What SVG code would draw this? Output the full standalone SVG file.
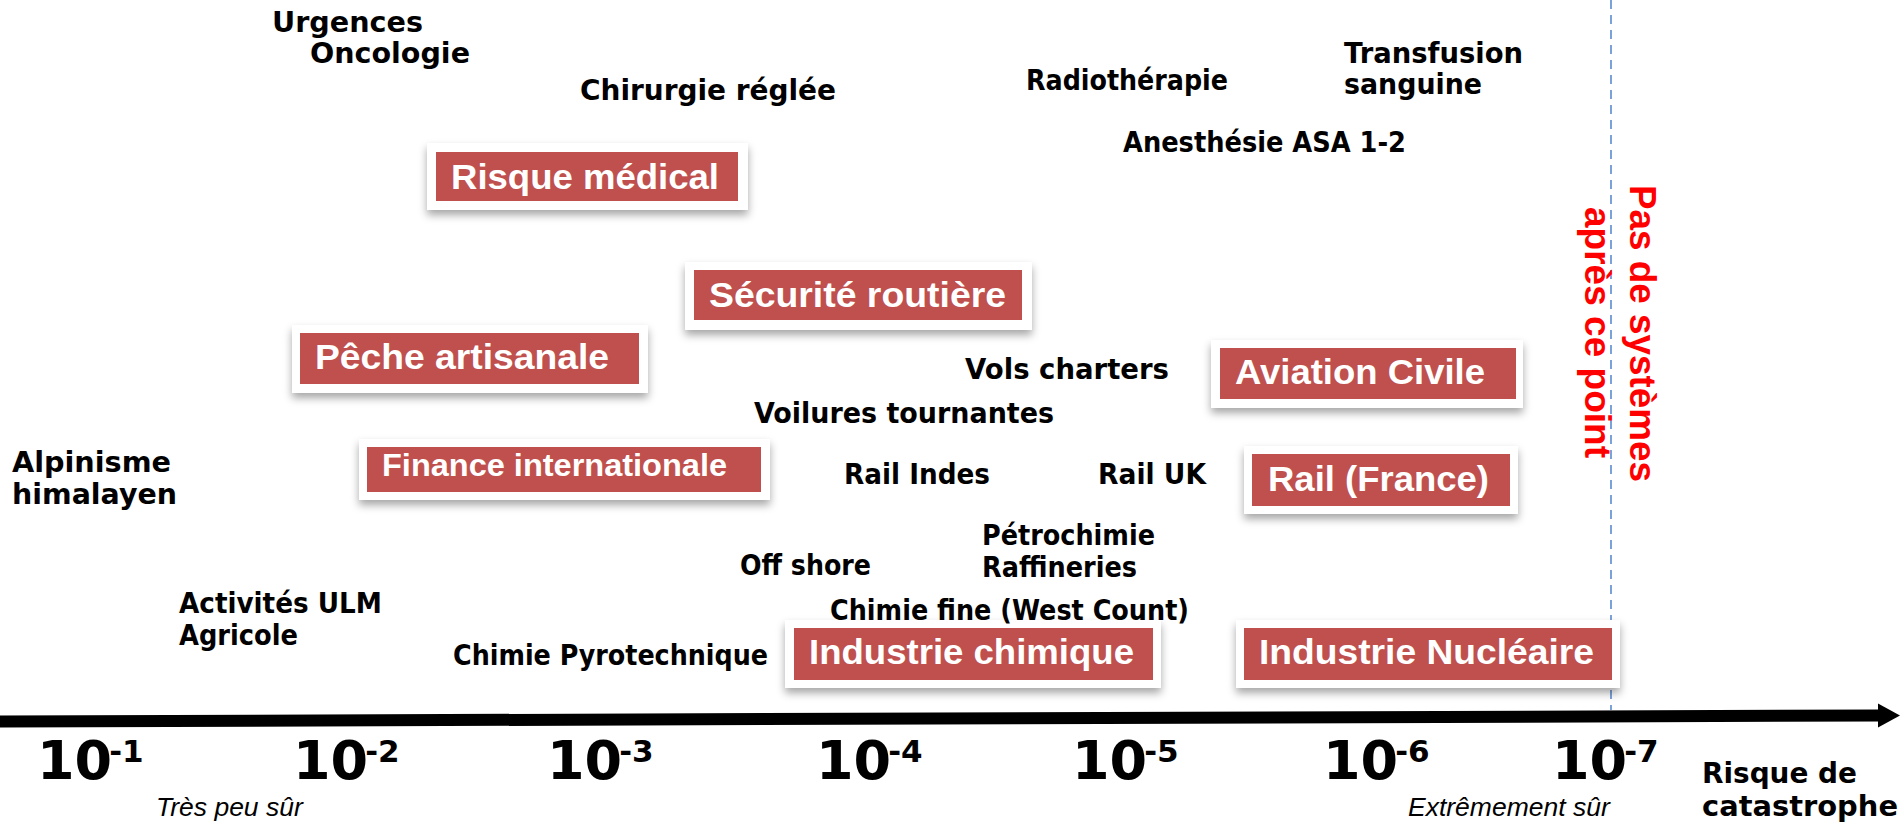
<svg xmlns="http://www.w3.org/2000/svg" width="1901" height="825" viewBox="0 0 1901 825">
<style>
.lbl{font-family:"DejaVu Sans","Liberation Sans",sans-serif;font-weight:bold;font-size:27.5px;fill:#000}
.box{font-family:"Liberation Sans",Arial,sans-serif;font-weight:bold;font-size:35px;fill:#fff}
.outer{fill:#fff;filter:url(#sh)}
.red{fill:#C0504D}
.tick{font-family:"DejaVu Sans","Liberation Sans",sans-serif;font-weight:bold;font-size:54px;fill:#000}
.sup{font-size:31px}
.it{font-family:"Liberation Sans",Arial,sans-serif;font-style:italic;font-size:26.5px;fill:#000}
.vert{font-family:"Liberation Sans",Arial,sans-serif;font-weight:bold;font-size:37px;fill:#FF0000}
</style>
<defs>
<filter id="sh" x="-10%" y="-20%" width="120%" height="160%">
<feDropShadow dx="0" dy="5" stdDeviation="4" flood-color="#000" flood-opacity="0.35"/>
</filter>
<marker id="ah" markerUnits="userSpaceOnUse" markerWidth="24" markerHeight="26" refX="1" refY="12" orient="auto">
<path d="M0,0 L22,12 L0,24 z" fill="#000"/>
</marker>
</defs>
<rect width="1901" height="825" fill="#fff"/>

<line x1="1611" y1="0" x2="1611" y2="710" stroke="#5B8BD0" stroke-width="1.6" stroke-dasharray="9,6"/>

<g id="connectors">
<line x1="0" y1="721.5" x2="1879" y2="715.5" stroke="#000" stroke-width="12" marker-end="url(#ah)"/>
</g>

<g id="box-risque-medical">
<rect class="outer" x="427" y="143" width="321" height="67"/>
<rect class="red" x="436" y="152" width="302" height="49"/>
<text class="box" x="451" y="189" textLength="268" lengthAdjust="spacingAndGlyphs">Risque médical</text>
</g>
<g id="box-securite-routiere">
<rect class="outer" x="685" y="262" width="347" height="68"/>
<rect class="red" x="694" y="270" width="328" height="50"/>
<text class="box" x="709" y="307" textLength="297" lengthAdjust="spacingAndGlyphs">Sécurité routière</text>
</g>
<g id="box-peche-artisanale">
<rect class="outer" x="292" y="325" width="356" height="68"/>
<rect class="red" x="300" y="333" width="339" height="51"/>
<text class="box" x="315" y="369" textLength="294" lengthAdjust="spacingAndGlyphs">Pêche artisanale</text>
</g>
<g id="box-aviation-civile">
<rect class="outer" x="1211" y="340" width="312" height="68"/>
<rect class="red" x="1220" y="348" width="296" height="51"/>
<text class="box" x="1235" y="384" textLength="250" lengthAdjust="spacingAndGlyphs">Aviation Civile</text>
</g>
<g id="box-finance-internationale">
<rect class="outer" x="359" y="439" width="411" height="61"/>
<rect class="red" x="367" y="447" width="394" height="45"/>
<text class="box" x="382" y="476" style="font-size:31px" textLength="345" lengthAdjust="spacingAndGlyphs">Finance internationale</text>
</g>
<g id="box-rail-france">
<rect class="outer" x="1244" y="446" width="274" height="68"/>
<rect class="red" x="1252" y="454" width="258" height="52"/>
<text class="box" x="1268" y="491" textLength="221" lengthAdjust="spacingAndGlyphs">Rail (France)</text>
</g>
<g id="box-industrie-chimique">
<rect class="outer" x="785" y="620" width="376" height="68"/>
<rect class="red" x="794" y="628" width="359" height="52"/>
<text class="box" x="809" y="664" textLength="325" lengthAdjust="spacingAndGlyphs">Industrie chimique</text>
</g>
<g id="box-industrie-nucleaire">
<rect class="outer" x="1236" y="620" width="384" height="68"/>
<rect class="red" x="1244" y="628" width="368" height="52"/>
<text class="box" x="1259" y="664" textLength="335" lengthAdjust="spacingAndGlyphs">Industrie Nucléaire</text>
</g>

<g id="labels">
<text class="lbl" x="272" y="32" textLength="151" lengthAdjust="spacingAndGlyphs">Urgences</text>
<text class="lbl" x="310" y="63" textLength="160" lengthAdjust="spacingAndGlyphs">Oncologie</text>
<text class="lbl" x="580" y="100" textLength="256" lengthAdjust="spacingAndGlyphs">Chirurgie réglée</text>
<text class="lbl" x="1026" y="90" textLength="202" lengthAdjust="spacingAndGlyphs">Radiothérapie</text>
<text class="lbl" x="1344" y="63" textLength="179" lengthAdjust="spacingAndGlyphs">Transfusion</text>
<text class="lbl" x="1344" y="94" textLength="138" lengthAdjust="spacingAndGlyphs">sanguine</text>
<text class="lbl" x="1123" y="152" textLength="283" lengthAdjust="spacingAndGlyphs">Anesthésie ASA 1-2</text>
<text class="lbl" x="965" y="379" textLength="204" lengthAdjust="spacingAndGlyphs">Vols charters</text>
<text class="lbl" x="754" y="423" textLength="300" lengthAdjust="spacingAndGlyphs">Voilures tournantes</text>
<text class="lbl" x="12" y="472" textLength="159" lengthAdjust="spacingAndGlyphs">Alpinisme</text>
<text class="lbl" x="12" y="504" textLength="165" lengthAdjust="spacingAndGlyphs">himalayen</text>
<text class="lbl" x="844" y="484" textLength="146" lengthAdjust="spacingAndGlyphs">Rail Indes</text>
<text class="lbl" x="1098" y="484" textLength="108" lengthAdjust="spacingAndGlyphs">Rail UK</text>
<text class="lbl" x="982" y="545" textLength="173" lengthAdjust="spacingAndGlyphs">Pétrochimie</text>
<text class="lbl" x="982" y="577" textLength="155" lengthAdjust="spacingAndGlyphs">Raffineries</text>
<text class="lbl" x="740" y="575" textLength="131" lengthAdjust="spacingAndGlyphs">Off shore</text>
<text class="lbl" x="179" y="613" textLength="203" lengthAdjust="spacingAndGlyphs">Activités ULM</text>
<text class="lbl" x="179" y="645" textLength="119" lengthAdjust="spacingAndGlyphs">Agricole</text>
<text class="lbl" x="830" y="620" textLength="359" lengthAdjust="spacingAndGlyphs">Chimie fine (West Count)</text>
<text class="lbl" x="453" y="665" textLength="315" lengthAdjust="spacingAndGlyphs">Chimie Pyrotechnique</text>
</g>

<g id="vertical-note">
<text class="vert" transform="translate(1630,185) rotate(90)" textLength="297" lengthAdjust="spacingAndGlyphs">Pas de systèmes</text>
<text class="vert" transform="translate(1585,207) rotate(90)" textLength="251" lengthAdjust="spacingAndGlyphs">après ce point</text>
</g>

<g id="axis-labels">
<text class="tick" x="37" y="779">10<tspan class="sup" dx="-3" dy="-17">-1</tspan></text>
<text class="tick" x="293" y="779">10<tspan class="sup" dx="-3" dy="-17">-2</tspan></text>
<text class="tick" x="547" y="779">10<tspan class="sup" dx="-3" dy="-17">-3</tspan></text>
<text class="tick" x="816" y="779">10<tspan class="sup" dx="-3" dy="-17">-4</tspan></text>
<text class="tick" x="1072" y="779">10<tspan class="sup" dx="-3" dy="-17">-5</tspan></text>
<text class="tick" x="1323" y="779">10<tspan class="sup" dx="-3" dy="-17">-6</tspan></text>
<text class="tick" x="1552" y="779">10<tspan class="sup" dx="-3" dy="-17">-7</tspan></text>
<text class="it" x="156" y="816">Très peu sûr</text>
<text class="it" x="1408" y="816">Extrêmement sûr</text>
<text class="lbl" x="1702" y="783" style="font-size:27.5px" textLength="155" lengthAdjust="spacingAndGlyphs">Risque de</text>
<text class="lbl" x="1702" y="816" style="font-size:27.5px" textLength="196" lengthAdjust="spacingAndGlyphs">catastrophe</text>
</g>
</svg>
